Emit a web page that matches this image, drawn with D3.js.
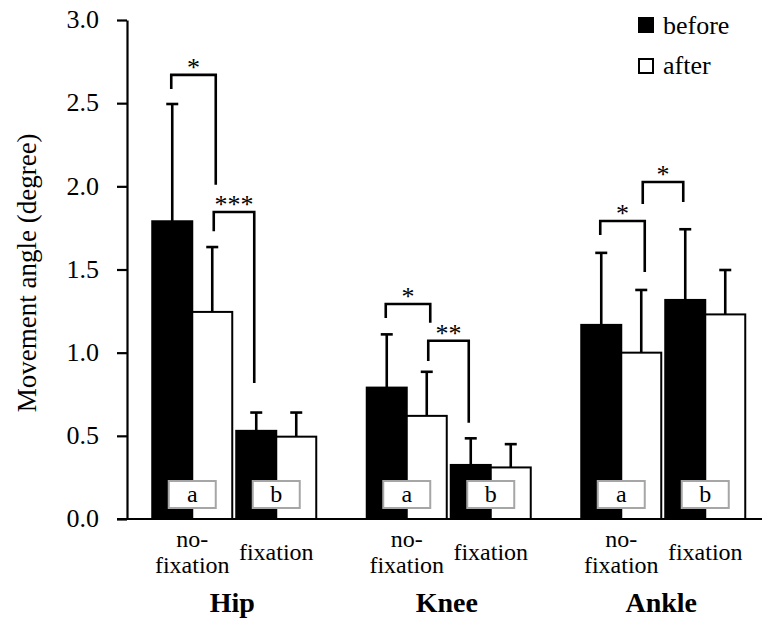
<!DOCTYPE html>
<html>
<head>
<meta charset="utf-8">
<script src="https://cdn.jsdelivr.net/npm/d3@7"></script>
<style>
  html, body { margin: 0; padding: 0; background: #fff; }
  svg { display: block; }
</style>
</head>
<body>
<svg id="chart" width="762" height="625"></svg>
<script>
// ---- data ----
const joints = ["Hip", "Knee", "Ankle"];
const conditions = ["nofix", "fix"];
const conditionLabels = [["no-", "fixation"], ["fixation"]];
const series = ["before", "after"];
const letters = ["a", "b"];
// means [joint][condition] for each series
const beforeMean = [[1.79, 0.53], [0.79, 0.325], [1.167, 1.317]];
const afterMean  = [[1.245, 0.495], [0.62, 0.31], [1.0, 1.23]];
const beforeErr  = [[2.495, 0.64], [1.11, 0.485], [1.6, 1.742]];   // top of error bar
const afterErr   = [[1.635, 0.64], [0.885, 0.45], [1.377, 1.497]];
const yTicks = [0, 0.5, 1.0, 1.5, 2.0, 2.5, 3.0];
// significance brackets
const brackets = [
  { joint: "Hip",   from: ["nofix", "before"], to: ["nofix", "after"], top: 2.67,  lb: 2.585, rb: 2.01,  label: "*" },
  { joint: "Hip",   from: ["nofix", "after"],  to: ["fix", "before"],  top: 1.846, lb: 1.73,  rb: 0.818, label: "***" },
  { joint: "Knee",  from: ["nofix", "before"], to: ["nofix", "after"], top: 1.293, lb: 1.209, rb: 1.18,  label: "*" },
  { joint: "Knee",  from: ["nofix", "after"],  to: ["fix", "before"],  top: 1.072, lb: 0.95,  rb: 0.579, label: "**" },
  { joint: "Ankle", from: ["nofix", "before"], to: ["nofix", "after"], top: 1.792, lb: 1.708, rb: 1.485, label: "*" },
  { joint: "Ankle", from: ["nofix", "after"],  to: ["fix", "before"],  top: 2.026, lb: 1.894, rb: 1.906, label: "*" }
];

const FONT = '"Liberation Serif"';

// ---- layout ----
const svg = d3.select("#chart");
const y = d3.scaleLinear().domain([0, 3]).range([519, 20]);
const x0 = d3.scaleBand().domain(joints).range([127, 770.5]).padding(0);
const x1 = d3.scaleBand().domain(conditions).range([23.25, 191.25]).paddingInner(0.0476).paddingOuter(0.0238);
const x2 = d3.scaleBand().domain(series).range([0, x1.bandwidth()]).padding(0);

const barX = (j, c, s) => x0(j) + x1(c) + x2(s);
const barC = (j, c, s) => barX(j, c, s) + x2.bandwidth() / 2;
const pairC = (j, c) => x0(j) + x1(c) + x1.bandwidth() / 2;

const recs = [];
joints.forEach((j, ji) => conditions.forEach((c, ci) => {
  recs.push({ j, c, s: "before", v: beforeMean[ji][ci], e: beforeErr[ji][ci] });
  recs.push({ j, c, s: "after",  v: afterMean[ji][ci],  e: afterErr[ji][ci] });
}));

// error bars
const eb = svg.append("g").attr("stroke", "#000").attr("stroke-width", 2.6);
eb.selectAll("line.v").data(recs).join("line").attr("class", "v")
  .attr("x1", d => barC(d.j, d.c, d.s)).attr("x2", d => barC(d.j, d.c, d.s))
  .attr("y1", d => y(d.v)).attr("y2", d => y(d.e));
eb.selectAll("line.cap").data(recs).join("line").attr("class", "cap")
  .attr("x1", d => barC(d.j, d.c, d.s) - 6).attr("x2", d => barC(d.j, d.c, d.s) + 6)
  .attr("y1", d => y(d.e)).attr("y2", d => y(d.e));

// bars
svg.append("g").selectAll("rect").data(recs).join("rect")
  .attr("x", d => barX(d.j, d.c, d.s))
  .attr("y", d => y(d.v))
  .attr("width", x2.bandwidth())
  .attr("height", d => y(0) - y(d.v))
  .attr("fill", d => d.s === "before" ? "#000" : "#fff")
  .attr("stroke", "#000")
  .attr("stroke-width", 2);

// letter boxes
const boxes = [];
joints.forEach(j => conditions.forEach((c, ci) => boxes.push({ j, c, t: letters[ci] })));
const bg = svg.append("g");
bg.selectAll("rect").data(boxes).join("rect")
  .attr("x", d => pairC(d.j, d.c) - 23.5)
  .attr("y", y(0) - 38)
  .attr("width", 47).attr("height", 27)
  .attr("fill", "#fff").attr("stroke", "#a6a6a6").attr("stroke-width", 2);
bg.selectAll("text").data(boxes).join("text")
  .attr("x", d => pairC(d.j, d.c))
  .attr("y", y(0) - 17)
  .attr("text-anchor", "middle")
  .attr("font-size", 24)
  .text(d => d.t);

// axes
const yAxis = d3.axisLeft(y).tickValues(yTicks).tickFormat(d3.format(".1f"))
  .tickSize(10).tickSizeOuter(0).tickPadding(18);
const yg = svg.append("g").attr("transform", "translate(127,0)").call(yAxis)
  .attr("font-size", 26);
yg.select(".domain").attr("stroke-width", 2.2);
yg.selectAll(".tick line").attr("stroke-width", 2.2);
yg.selectAll(".tick text").attr("fill", "#000").attr("dy", "0.3em");

svg.append("line").attr("x1", 117).attr("x2", 762).attr("y1", y(0)).attr("y2", y(0))
  .attr("stroke", "#000").attr("stroke-width", 2.2);

// y title
svg.append("text")
  .attr("transform", `translate(36,${y(1.48)}) rotate(-90)`)
  .attr("text-anchor", "middle")
  .attr("font-size", 27)
  .text("Movement angle (degree)");

// category labels
const cl = svg.append("g").attr("font-size", 24).attr("text-anchor", "middle");
joints.forEach(j => conditions.forEach((c, ci) => {
  const lines = conditionLabels[ci];
  const t = cl.append("text").attr("x", pairC(j, c));
  if (lines.length === 2) {
    t.append("tspan").attr("x", pairC(j, c)).attr("y", 547).text(lines[0]);
    t.append("tspan").attr("x", pairC(j, c)).attr("y", 573).text(lines[1]);
  } else {
    t.attr("y", 560).text(lines[0]);
  }
}));

// joint labels
svg.append("g").selectAll("text").data(joints).join("text")
  .attr("x", d => x0(d) + x0.bandwidth() / 2 - 2)
  .attr("y", 612)
  .attr("text-anchor", "middle")
  .attr("font-size", 28).attr("font-weight", "bold")
  .text(d => d);

// brackets
const brg = svg.append("g");
brackets.forEach(b => {
  const xl = barC(b.joint, b.from[0], b.from[1]) + (b.from[1] === "after" ? 1.5 : -1);
  const xr = barC(b.joint, b.to[0], b.to[1]) + (b.to[1] === "after" ? 3.5 : -2);
  brg.append("path")
    .attr("d", `M${xl},${y(b.lb)}V${y(b.top)}H${xr}V${y(b.rb)}`)
    .attr("fill", "none").attr("stroke", "#000").attr("stroke-width", 2.6);
  brg.append("text")
    .attr("x", (xl + xr) / 2).attr("y", y(b.top) + 1)
    .attr("text-anchor", "middle").attr("font-size", 26)
    .text(b.label);
});

// legend
const lg = svg.append("g");
series.forEach((s, i) => {
  lg.append("rect").attr("x", 639).attr("y", 18 + i * 41).attr("width", 14).attr("height", 14)
    .attr("fill", s === "before" ? "#000" : "#fff").attr("stroke", "#000").attr("stroke-width", 2);
  lg.append("text").attr("x", 663).attr("y", 34 + i * 40).attr("font-size", 26).text(s);
});

// font for every text
svg.selectAll("text").style("font-family", FONT);
svg.selectAll("g").attr("font-family", null);
</script>
</body>
</html>
